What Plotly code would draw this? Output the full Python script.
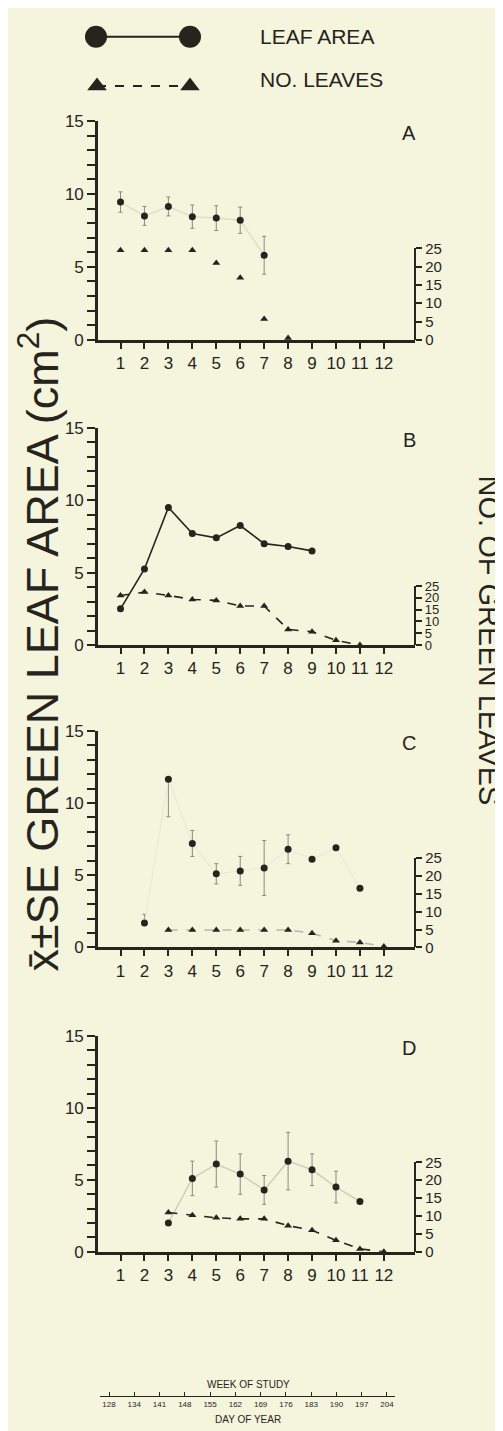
import plotly.graph_objects as go

W, H = 503, 1431
S = 1.07  # vertical factor between measured scan coordinates and the page
INK = '#26241c'
BG = '#f5f4dc'
FONT = 'Liberation Sans, Arial, sans-serif'

weeks = list(range(1, 13))

# Panel A
A_area_wk = [1, 2, 3, 4, 5, 6, 7]
A_area = [9.45, 8.5, 9.15, 8.45, 8.35, 8.2, 5.8]
A_area_se = [0.7, 0.65, 0.65, 0.8, 0.85, 0.9, 1.3]
A_leaf_wk = [1, 2, 3, 4, 5, 6, 7, 8]
A_leaves = [24.5, 24.5, 24.5, 24.5, 21.0, 17.0, 5.7, 0.5]

# Panel B
B_area_wk = [1, 2, 3, 4, 5, 6, 7, 8, 9]
B_area = [2.5, 5.25, 9.5, 7.7, 7.4, 8.25, 7.0, 6.8, 6.5]
B_area_se = [0, 0, 0, 0, 0, 0, 0, 0, 0]
B_leaf_wk = [1, 2, 3, 4, 5, 6, 7, 8, 9, 10, 11]
B_leaves = [21.0, 22.4, 21.0, 19.3, 18.9, 16.5, 16.5, 6.6, 5.6, 2.0, 0.0]

# Panel C
C_area_wk = [2, 3, 4, 5, 6, 7, 8, 9, 10, 11]
C_area = [1.7, 11.65, 7.2, 5.1, 5.3, 5.5, 6.8, 6.1, 6.9, 4.1]
C_area_se_up = [0.6, 0.0, 0.9, 0.7, 1.0, 1.9, 1.0, 0, 0, 0]
C_area_se_dn = [0.0, 2.6, 0.9, 0.7, 1.0, 1.9, 1.0, 0, 0, 0]
C_leaf_wk = [3, 4, 5, 6, 7, 8, 9, 10, 11, 12]
C_leaves = [4.9, 4.9, 4.9, 4.9, 4.9, 4.9, 4.0, 1.9, 1.4, 0.3]

# Panel D
D_area_wk = [3, 4, 5, 6, 7, 8, 9, 10, 11]
D_area = [2.0, 5.1, 6.1, 5.4, 4.3, 6.3, 5.7, 4.5, 3.5]
D_area_se = [0, 1.2, 1.6, 1.4, 1.0, 2.0, 1.1, 1.1, 0]
D_leaf_wk = [3, 4, 5, 6, 7, 8, 9, 10, 11, 12]
D_leaves = [11.0, 10.2, 9.5, 9.2, 9.2, 7.3, 6.0, 3.2, 0.8, 0.0]

day_labels = ['128', '134', '141', '148', '155', '162', '169', '176', '183', '190', '197', '204']
left_ticks = list(range(0, 16))
right_ticks = [0, 5, 10, 15, 20, 25]


def py(px):
    return 1 - px / H


def ps(px):
    """scan coordinate -> paper"""
    return 1 - (px / S) / H


def pxx(px):
    return px / W


# panel geometry in scan pixels: (letter, top(15), bottom(0), top of right axis(25))
panels = [('A', 113, 350, 251), ('B', 445.5, 681, 617),
          ('C', 774, 1009, 912), ('D', 1105, 1339, 1242)]
XL, XR = 90, 407

fig = go.Figure()
layout = dict(width=W, height=H, margin=dict(l=0, r=0, t=0, b=0),
              paper_bgcolor=BG, plot_bgcolor='rgba(0,0,0,0)',
              font=dict(family=FONT, color=INK), showlegend=False)

area_sets = [
    (A_area_wk, A_area, A_area_se, A_area_se, '#e0decb', 1.5),
    (B_area_wk, B_area, B_area_se, B_area_se, INK, 1.6),
    (C_area_wk, C_area, C_area_se_up, C_area_se_dn, '#ebe9d6', 1.2),
    (D_area_wk, D_area, D_area_se, D_area_se, '#cfcdbb', 1.5),
]
leaf_sets = [
    (A_leaf_wk, A_leaves, None),
    (B_leaf_wk, B_leaves, INK),
    (C_leaf_wk, C_leaves, '#b8b6a6'),
    (D_leaf_wk, D_leaves, INK),
]

for i, (letter, top, bot, top25) in enumerate(panels):
    n = i + 1
    rn = i + 5
    xs = '' if n == 1 else str(n)
    layout['xaxis' + xs] = dict(domain=[pxx(XL), pxx(XR)], range=[0.06, 13.3], anchor='y' + xs,
                                tickvals=weeks, ticktext=[str(w) for w in weeks],
                                ticks='outside', ticklen=6, tickwidth=1.6, tickcolor=INK,
                                showline=True, linewidth=2.6, linecolor=INK,
                                showgrid=False, zeroline=False,
                                tickfont=dict(size=17, family=FONT, color=INK))
    layout['yaxis' + xs] = dict(domain=[ps(bot), ps(top)], range=[0, 15], anchor='x' + xs,
                                tickvals=left_ticks,
                                ticktext=[str(v) if v % 5 == 0 else '' for v in left_ticks],
                                ticks='outside', ticklen=8, tickwidth=2, tickcolor=INK,
                                showline=True, linewidth=2.6, linecolor=INK,
                                showgrid=False, zeroline=False,
                                tickfont=dict(size=17, family=FONT, color=INK))
    layout['yaxis' + str(rn)] = dict(domain=[ps(bot), ps(top25)], range=[0, 25], anchor='free',
                                     position=pxx(XR), side='right',
                                     tickvals=right_ticks, ticks='outside', ticklen=6,
                                     tickwidth=1.6, tickcolor=INK,
                                     showline=True, linewidth=2.4, linecolor=INK,
                                     showgrid=False, zeroline=False,
                                     tickfont=dict(size=13 if letter == 'B' else 15,
                                                   family=FONT, color=INK))

    wk, val, up, dn, lcol, lw = area_sets[i]
    fig.add_trace(go.Scatter(
        x=wk, y=val, xaxis='x' + xs, yaxis='y' + xs, mode='lines+markers',
        line=dict(color=lcol, width=lw),
        marker=dict(symbol='circle', size=7, color=INK),
        error_y=dict(type='data', array=up, arrayminus=dn, symmetric=False,
                     color='#8c8a7e', thickness=1, width=2),
        cliponaxis=False))

    lwk, lval, dcol = leaf_sets[i]
    fig.add_trace(go.Scatter(
        x=lwk, y=lval, xaxis='x' + xs, yaxis='y' + str(rn),
        mode='lines+markers' if dcol else 'markers',
        line=dict(color=dcol or INK, width=1.6, dash='dash'),
        marker=dict(symbol='triangle-up', size=7, color=INK),
        cliponaxis=False))

    layout.setdefault('annotations', []).append(dict(
        x=pxx(401), y=ps(top + 13), xref='paper', yref='paper', text=letter,
        showarrow=False, font=dict(size=20, family=FONT, color=INK),
        xanchor='center', yanchor='middle'))

# Day-of-year axis below panel D
layout['xaxis9'] = dict(domain=[pxx(92), pxx(387)], range=[-0.356, 11.317], anchor='y9',
                        tickvals=list(range(12)), ticktext=day_labels,
                        ticks='inside', ticklen=4, tickwidth=1, tickcolor=INK,
                        showline=True, linewidth=1, linecolor=INK,
                        showgrid=False, zeroline=False,
                        tickfont=dict(size=8, family=FONT, color=INK))
layout['yaxis9'] = dict(domain=[py(1398), py(1390)], visible=False, range=[0, 1])
fig.add_trace(go.Scatter(x=[0], y=[0], xaxis='x9', yaxis='y9', mode='markers',
                         marker=dict(opacity=0), hoverinfo='skip'))

# Legend key on hidden pixel-space axes
layout['xaxis10'] = dict(domain=[0, 1], range=[0, W], visible=False, anchor='y10')
layout['yaxis10'] = dict(domain=[py(100), 1], range=[100, 0], visible=False, anchor='x10')
fig.add_trace(go.Scatter(x=[88, 182], y=[20, 20], xaxis='x10', yaxis='y10',
                         mode='lines+markers', line=dict(color=INK, width=2),
                         marker=dict(symbol='circle', size=22, color=INK), hoverinfo='skip'))
fig.add_trace(go.Scatter(x=[89, 182], y=[70, 70], xaxis='x10', yaxis='y10',
                         mode='lines+markers', line=dict(color=INK, width=2, dash='dash'),
                         marker=dict(symbol='triangle-up', size=17, color=INK), hoverinfo='skip'))

ann = layout['annotations']
ann += [
    dict(x=pxx(250), y=py(20), xref='paper', yref='paper', text='LEAF AREA', showarrow=False,
         xanchor='left', yanchor='middle', font=dict(size=21, family=FONT, color=INK)),
    dict(x=pxx(250), y=py(63), xref='paper', yref='paper', text='NO. LEAVES', showarrow=False,
         xanchor='left', yanchor='middle', font=dict(size=21, family=FONT, color=INK)),
    dict(x=pxx(31), y=py(636), xref='paper', yref='paper',
         text='x\u0304\u00b1SE GREEN LEAF AREA (cm<sup>2</sup>)', showarrow=False,
         textangle=-90, xanchor='center', yanchor='middle',
         font=dict(size=45, family=FONT, color=INK)),
    dict(x=pxx(481), y=py(632), xref='paper', yref='paper', text='NO. OF GREEN LEAVES',
         showarrow=False, textangle=90, xanchor='center', yanchor='middle',
         font=dict(size=29, family=FONT, color=INK)),
    dict(x=pxx(240), y=py(1386), xref='paper', yref='paper', text='WEEK OF STUDY',
         showarrow=False, xanchor='center', yanchor='middle',
         font=dict(size=10, family=FONT, color=INK)),
    dict(x=pxx(240), y=py(1421), xref='paper', yref='paper', text='DAY OF YEAR',
         showarrow=False, xanchor='center', yanchor='middle',
         font=dict(size=10, family=FONT, color=INK)),
]

fig.update_layout(**layout)
fig.write_html('out.html')
